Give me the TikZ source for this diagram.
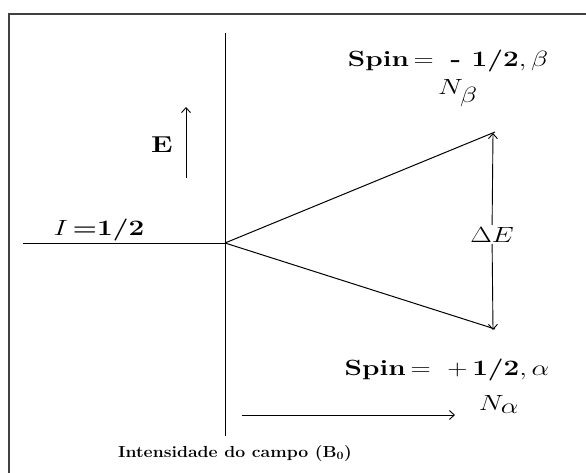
\RequirePackage{fix-cm}
\documentclass[tikz,border=0pt]{standalone}
\usepackage{amsmath,amssymb}
\usepackage{fontspec}
\usepackage{tikz}
\usetikzlibrary{arrows.meta}

\newcommand{\wide}[1]{\scalebox{1.27}[1]{#1}}

\begin{document}
\begin{tikzpicture}[x=1pt, y=-1pt,
  lbl/.style={inner sep=0pt, anchor=base, font=\fontsize{22}{26}\selectfont},
  axlbl/.style={inner sep=0pt, anchor=base, font=\fontsize{16}{20}\selectfont\bfseries},
  lvl/.style={line width=1pt},
  arr/.style={-{Straight Barb[length=5pt, width=9pt]}, line width=0.9pt}]
  \useasboundingbox (0,0) rectangle (586,473);
  % frame (only top and left edges are visible)
  \draw[line width=1.3pt, black!75] (9,473) -- (9,14) -- (586,14);
  % energy levels
  \coordinate (ytop) at (225,33);
  \coordinate (ybot) at (225,436);
  \coordinate (c) at (225,243);
  \coordinate (l) at (23,243);
  \coordinate (up) at (495,132);
  \coordinate (dn) at (495,329);
  \coordinate (dtop) at (493,133);
  \coordinate (dbot) at (493,330);
  \coordinate (e0) at (186,178);
  \coordinate (e1) at (186,107);
  \coordinate (b0) at (242,415);
  \coordinate (b1) at (455,415);
  \node[lbl] (spinb) at (448,67) {\wide{\textbf{Spin}\,$=$\ \ \textbf{- 1/2}$,\beta$}};
  \node[lbl] (nb) at (458,95) {\wide{$N_{\textstyle\beta}$}};
  \node[lbl] (spina) at (447,375) {\wide{\textbf{Spin}\,$=$\ \ $+$\,\textbf{1/2}$,\alpha$}};
  \node[lbl] (na) at (499,410) {\wide{$N_{\textstyle\alpha}$}};
  \node[lbl] (ival) at (99,235) {\wide{$I$\,\textbf{=1/2}}};
  \node[lbl, fill=white, inner sep=2pt] (de) at (492,242) {\wide{$\Delta E$}};
  \node[lbl, font=\fontsize{23}{26}\selectfont\bfseries] (elbl) at (162,153) {\wide{E}};
  \node[axlbl] (field) at (235,457) {\scalebox{1.1}[1]{Intensidade do campo (B\textsubscript{0})}};
  \draw[lvl] (ytop) -- (ybot);
  \draw[lvl] (l) -- (c);
  \draw[lvl] (c) -- (up);
  \draw[lvl] (c) -- (dn);
  \draw[arr] (de) -- (dtop);
  \draw[arr] (de) -- (dbot);
  \draw[arr] (e0) -- (e1);
  \draw[arr] (b0) -- (b1);
\end{tikzpicture}
\end{document}
